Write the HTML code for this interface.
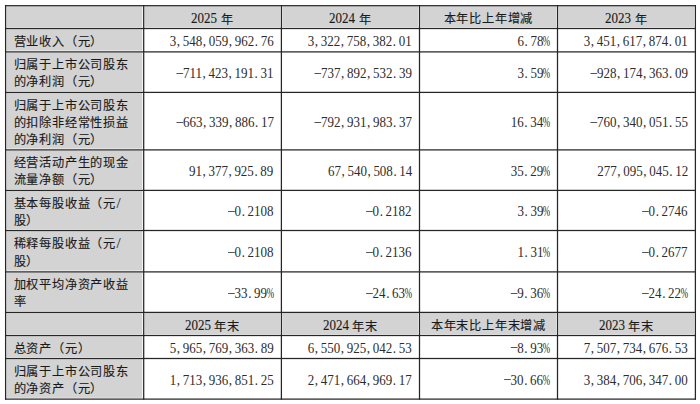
<!DOCTYPE html>
<html lang="zh-CN"><head><meta charset="utf-8">
<style>
html,body{margin:0;padding:0;background:#fff;}
body{width:700px;height:404px;position:relative;overflow:hidden;font-family:"Liberation Serif",serif;font-size:13px;color:#1a1a1a;}
svg{position:absolute;left:0;top:0;}
.t{position:absolute;line-height:17.2px;white-space:nowrap;}
.hc{text-align:center;font-size:12.2px;letter-spacing:0.8px;-webkit-text-stroke:0.12px #1a1a1a;}
.lc{text-align:left;font-size:12.2px;letter-spacing:0.8px;-webkit-text-stroke:0.12px #1a1a1a;}
.rc{text-align:right;}
i{font-style:normal;display:inline-block;}
.n{color:#2c2c2c;font-size:13.6px;transform:scaleX(0.9559);transform-origin:100% 50%;}
.c{width:6.8px;text-align:left;text-indent:0.6px;}
.m{width:6.8px;height:17.2px;vertical-align:top;position:relative;}
.m b{position:absolute;left:0.3px;right:0.1px;top:7.5px;height:1px;background:#555;}
.p{width:6.8px;}
.p b{display:inline-block;font-weight:normal;transform:translateX(-0.5px) scaleX(0.68);transform-origin:0 50%;}
.hd{text-align:left;}
.hd b{display:inline-block;font-weight:normal;letter-spacing:0;position:relative;top:-1px;font-size:13.6px;transform:scaleX(0.9559);transform-origin:0 50%;}
.sp{display:inline-block;width:3.5px;}
.sl{display:inline;font-size:15px;line-height:0;letter-spacing:0;padding:0 1px 0 0.6px;-webkit-text-stroke:0;}
</style></head><body>
<svg width="700" height="404" viewBox="0 0 700 404"><rect x="6.50" y="6.30" width="135.80" height="20.90" fill="#d3d3d3"/><rect x="6.50" y="29.10" width="135.80" height="21.50" fill="#d3d3d3"/><rect x="6.50" y="52.50" width="135.80" height="38.60" fill="#d3d3d3"/><rect x="6.50" y="93.00" width="135.80" height="55.60" fill="#d3d3d3"/><rect x="6.50" y="150.50" width="135.80" height="38.60" fill="#d3d3d3"/><rect x="6.50" y="191.00" width="135.80" height="38.20" fill="#d3d3d3"/><rect x="6.50" y="231.10" width="135.80" height="39.50" fill="#d3d3d3"/><rect x="6.50" y="272.50" width="135.80" height="38.60" fill="#d3d3d3"/><rect x="6.50" y="313.00" width="135.80" height="21.20" fill="#d3d3d3"/><rect x="6.50" y="336.10" width="135.80" height="21.10" fill="#d3d3d3"/><rect x="6.50" y="359.10" width="135.80" height="38.70" fill="#d3d3d3"/><rect x="144.60" y="6.30" width="135.40" height="20.90" fill="#d3d3d3"/><rect x="282.30" y="6.30" width="135.80" height="20.90" fill="#d3d3d3"/><rect x="420.40" y="6.30" width="135.70" height="20.90" fill="#d3d3d3"/><rect x="558.40" y="6.30" width="135.60" height="20.90" fill="#d3d3d3"/><rect x="144.60" y="313.00" width="135.40" height="21.20" fill="#d3d3d3"/><rect x="282.30" y="313.00" width="135.80" height="21.20" fill="#d3d3d3"/><rect x="420.40" y="313.00" width="135.70" height="21.20" fill="#d3d3d3"/><rect x="558.40" y="313.00" width="135.60" height="21.20" fill="#d3d3d3"/><rect x="4.975" y="5.075" width="691.05" height="1.25" fill="#262626"/><rect x="4.975" y="27.875" width="691.05" height="1.25" fill="#262626"/><rect x="4.975" y="51.275" width="691.05" height="1.25" fill="#262626"/><rect x="4.975" y="91.775" width="691.05" height="1.25" fill="#262626"/><rect x="4.975" y="149.275" width="691.05" height="1.25" fill="#262626"/><rect x="4.975" y="189.775" width="691.05" height="1.25" fill="#262626"/><rect x="4.975" y="229.875" width="691.05" height="1.25" fill="#262626"/><rect x="4.975" y="271.275" width="691.05" height="1.25" fill="#262626"/><rect x="4.975" y="311.775" width="691.05" height="1.25" fill="#262626"/><rect x="4.975" y="334.875" width="691.05" height="1.25" fill="#262626"/><rect x="4.975" y="357.875" width="691.05" height="1.25" fill="#262626"/><rect x="4.975" y="398.475" width="691.05" height="1.25" fill="#262626"/><rect x="4.975" y="5.075" width="1.25" height="394.65000000000003" fill="#262626"/><rect x="143.075" y="5.075" width="1.25" height="394.65000000000003" fill="#262626"/><rect x="280.775" y="5.075" width="1.25" height="394.65000000000003" fill="#262626"/><rect x="418.875" y="5.075" width="1.25" height="394.65000000000003" fill="#262626"/><rect x="556.875" y="5.075" width="1.25" height="394.65000000000003" fill="#262626"/><rect x="694.775" y="5.075" width="1.25" height="394.65000000000003" fill="#262626"/></svg>
<div class="t hc" style="left:143.7px;width:137.7px;top:10.80px"><i class="hd" style="width:26.0px"><b>2025</b></i><span class="sp"></span>年</div>
<div class="t hc" style="left:281.4px;width:138.10000000000002px;top:10.80px"><i class="hd" style="width:26.0px"><b>2024</b></i><span class="sp"></span>年</div>
<div class="t hc" style="left:419.5px;width:138.0px;top:10.80px">本年比上年增减</div>
<div class="t hc" style="left:557.5px;width:137.89999999999998px;top:10.80px"><i class="hd" style="width:26.0px"><b>2023</b></i><span class="sp"></span>年</div>
<div class="t lc" style="left:13.6px;top:33.90px">营业收入（元）</div>
<div class="t rc n" style="right:426.20px;top:33.10px">3<i class="c">,</i>548<i class="c">,</i>059<i class="c">,</i>962<i class="c">.</i>76</div>
<div class="t rc n" style="right:288.10px;top:33.10px">3<i class="c">,</i>322<i class="c">,</i>758<i class="c">,</i>382<i class="c">.</i>01</div>
<div class="t rc n" style="right:150.10px;top:33.10px">6<i class="c">.</i>78<i class="p"><b>%</b></i></div>
<div class="t rc n" style="right:12.20px;top:33.10px">3<i class="c">,</i>451<i class="c">,</i>617<i class="c">,</i>874<i class="c">.</i>01</div>
<div class="t lc" style="left:13.6px;top:57.25px">归属于上市公司股东<br>的净利润（元）</div>
<div class="t rc n" style="right:426.20px;top:65.05px"><i class="m"><b></b></i>711<i class="c">,</i>423<i class="c">,</i>191<i class="c">.</i>31</div>
<div class="t rc n" style="right:288.10px;top:65.05px"><i class="m"><b></b></i>737<i class="c">,</i>892<i class="c">,</i>532<i class="c">.</i>39</div>
<div class="t rc n" style="right:150.10px;top:65.05px">3<i class="c">.</i>59<i class="p"><b>%</b></i></div>
<div class="t rc n" style="right:12.20px;top:65.05px"><i class="m"><b></b></i>928<i class="c">,</i>174<i class="c">,</i>363<i class="c">.</i>09</div>
<div class="t lc" style="left:13.6px;top:97.65px">归属于上市公司股东<br>的扣除非经常性损益<br>的净利润（元）</div>
<div class="t rc n" style="right:426.20px;top:114.05px"><i class="m"><b></b></i>663<i class="c">,</i>339<i class="c">,</i>886<i class="c">.</i>17</div>
<div class="t rc n" style="right:288.10px;top:114.05px"><i class="m"><b></b></i>792<i class="c">,</i>931<i class="c">,</i>983<i class="c">.</i>37</div>
<div class="t rc n" style="right:150.10px;top:114.05px">16<i class="c">.</i>34<i class="p"><b>%</b></i></div>
<div class="t rc n" style="right:12.20px;top:114.05px"><i class="m"><b></b></i>760<i class="c">,</i>340<i class="c">,</i>051<i class="c">.</i>55</div>
<div class="t lc" style="left:13.6px;top:155.25px">经营活动产生的现金<br>流量净额（元）</div>
<div class="t rc n" style="right:426.20px;top:163.05px">91<i class="c">,</i>377<i class="c">,</i>925<i class="c">.</i>89</div>
<div class="t rc n" style="right:288.10px;top:163.05px">67<i class="c">,</i>540<i class="c">,</i>508<i class="c">.</i>14</div>
<div class="t rc n" style="right:150.10px;top:163.05px">35<i class="c">.</i>29<i class="p"><b>%</b></i></div>
<div class="t rc n" style="right:12.20px;top:163.05px">277<i class="c">,</i>095<i class="c">,</i>045<i class="c">.</i>12</div>
<div class="t lc" style="left:13.6px;top:195.55px">基本每股收益（元<i class="sl">/</i><br>股）</div>
<div class="t rc n" style="right:426.20px;top:203.35px"><i class="m"><b></b></i>0<i class="c">.</i>2108</div>
<div class="t rc n" style="right:288.10px;top:203.35px"><i class="m"><b></b></i>0<i class="c">.</i>2182</div>
<div class="t rc n" style="right:150.10px;top:203.35px">3<i class="c">.</i>39<i class="p"><b>%</b></i></div>
<div class="t rc n" style="right:12.20px;top:203.35px"><i class="m"><b></b></i>0<i class="c">.</i>2746</div>
<div class="t lc" style="left:13.6px;top:236.30px">稀释每股收益（元<i class="sl">/</i><br>股）</div>
<div class="t rc n" style="right:426.20px;top:244.10px"><i class="m"><b></b></i>0<i class="c">.</i>2108</div>
<div class="t rc n" style="right:288.10px;top:244.10px"><i class="m"><b></b></i>0<i class="c">.</i>2136</div>
<div class="t rc n" style="right:150.10px;top:244.10px">1<i class="c">.</i>31<i class="p"><b>%</b></i></div>
<div class="t rc n" style="right:12.20px;top:244.10px"><i class="m"><b></b></i>0<i class="c">.</i>2677</div>
<div class="t lc" style="left:13.6px;top:277.25px">加权平均净资产收益<br>率</div>
<div class="t rc n" style="right:426.20px;top:285.05px"><i class="m"><b></b></i>33<i class="c">.</i>99<i class="p"><b>%</b></i></div>
<div class="t rc n" style="right:288.10px;top:285.05px"><i class="m"><b></b></i>24<i class="c">.</i>63<i class="p"><b>%</b></i></div>
<div class="t rc n" style="right:150.10px;top:285.05px"><i class="m"><b></b></i>9<i class="c">.</i>36<i class="p"><b>%</b></i></div>
<div class="t rc n" style="right:12.20px;top:285.05px"><i class="m"><b></b></i>24<i class="c">.</i>22<i class="p"><b>%</b></i></div>
<div class="t hc" style="left:143.7px;width:137.7px;top:317.65px"><i class="hd" style="width:26.0px"><b>2025</b></i><span class="sp"></span>年末</div>
<div class="t hc" style="left:281.4px;width:138.10000000000002px;top:317.65px"><i class="hd" style="width:26.0px"><b>2024</b></i><span class="sp"></span>年末</div>
<div class="t hc" style="left:419.5px;width:138.0px;top:317.65px">本年末比上年末增减</div>
<div class="t hc" style="left:557.5px;width:137.89999999999998px;top:317.65px"><i class="hd" style="width:26.0px"><b>2023</b></i><span class="sp"></span>年末</div>
<div class="t lc" style="left:13.6px;top:340.70px">总资产（元）</div>
<div class="t rc n" style="right:426.20px;top:339.90px">5<i class="c">,</i>965<i class="c">,</i>769<i class="c">,</i>363<i class="c">.</i>89</div>
<div class="t rc n" style="right:288.10px;top:339.90px">6<i class="c">,</i>550<i class="c">,</i>925<i class="c">,</i>042<i class="c">.</i>53</div>
<div class="t rc n" style="right:150.10px;top:339.90px"><i class="m"><b></b></i>8<i class="c">.</i>93<i class="p"><b>%</b></i></div>
<div class="t rc n" style="right:12.20px;top:339.90px">7<i class="c">,</i>507<i class="c">,</i>734<i class="c">,</i>676<i class="c">.</i>53</div>
<div class="t lc" style="left:13.6px;top:363.90px">归属于上市公司股东<br>的净资产（元）</div>
<div class="t rc n" style="right:426.20px;top:371.70px">1<i class="c">,</i>713<i class="c">,</i>936<i class="c">,</i>851<i class="c">.</i>25</div>
<div class="t rc n" style="right:288.10px;top:371.70px">2<i class="c">,</i>471<i class="c">,</i>664<i class="c">,</i>969<i class="c">.</i>17</div>
<div class="t rc n" style="right:150.10px;top:371.70px"><i class="m"><b></b></i>30<i class="c">.</i>66<i class="p"><b>%</b></i></div>
<div class="t rc n" style="right:12.20px;top:371.70px">3<i class="c">,</i>384<i class="c">,</i>706<i class="c">,</i>347<i class="c">.</i>00</div>
</body></html>
